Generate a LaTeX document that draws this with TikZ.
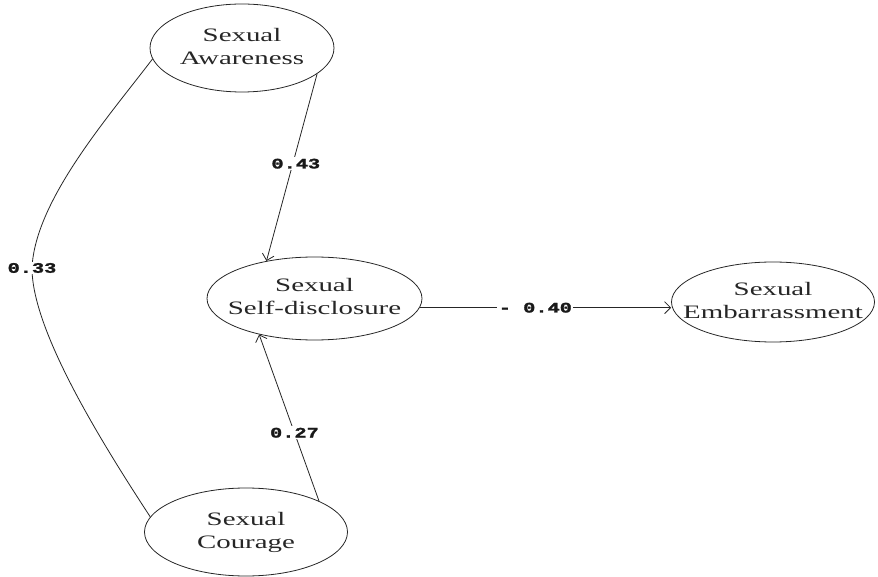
\documentclass[tikz,border=0pt]{standalone}
\usepackage{fontspec}
\setmainfont{Liberation Serif}
\newfontfamily\lblfont{Liberation Mono}[BoldFeatures={FakeBold=1.5}]
\usetikzlibrary{shapes.geometric,arrows.meta}
\newcommand{\eltext}[2]{\makebox[0pt]{\scalebox{1.52}[1]{\begin{tabular}{@{}c@{}}#1\\#2\end{tabular}}}}
\newcommand{\coefx}[1]{\scalebox{1.4}[1]{#1}}
\begin{document}
\begin{tikzpicture}[x=1pt,y=1pt,
  lat/.style={ellipse, draw=black!85, line width=0.8pt, inner sep=0pt, text=black!85,
              font=\fontsize{19}{23}\selectfont},
  link/.style={draw=black!85, line width=0.8pt},
  arr/.style={link, -{Straight Barb[length=6pt,width=12pt]}},
  coef/.style={fill=white, inner sep=1.5pt, text=black!90,
               font=\lblfont\bfseries\fontsize{14.5}{16}\selectfont}]
\useasboundingbox (0,0) rectangle (878,576);
\node[lat, minimum width=184pt, minimum height=88pt] (aw) at (242,528) {\eltext{Sexual}{Awareness}};
\node[lat, minimum width=215pt, minimum height=83pt] (sd) at (314.5,277.5) {\eltext{Sexual}{Self-disclosure}};
\node[lat, minimum width=203pt, minimum height=80pt] (em) at (773,274) {\eltext{Sexual}{Embarrassment}};
\node[lat, minimum width=203pt, minimum height=88pt] (co) at (246,44) {\eltext{Sexual}{Courage}};
\draw[arr] (aw.-19) -- node[coef, pos=0.48, xshift=3pt]{\coefx{0.43}} (sd.142);
\draw[arr] (co.23) -- node[coef, pos=0.41]{\coefx{0.27}} (sd.213);
\draw[arr] (sd.-5) -- node[coef, pos=0.46]{\coefx{- 0.40}} (sd.-5 -| em.west);
\coordinate (m33) at (32,308);
\draw[link] (aw.187) .. controls (110,461) and (35,376) .. (m33)
                     .. controls (32,246) and (100,136) .. (co.171);
\node[coef] (c33) at (m33) {\coefx{0.33}};
\end{tikzpicture}
\end{document}
